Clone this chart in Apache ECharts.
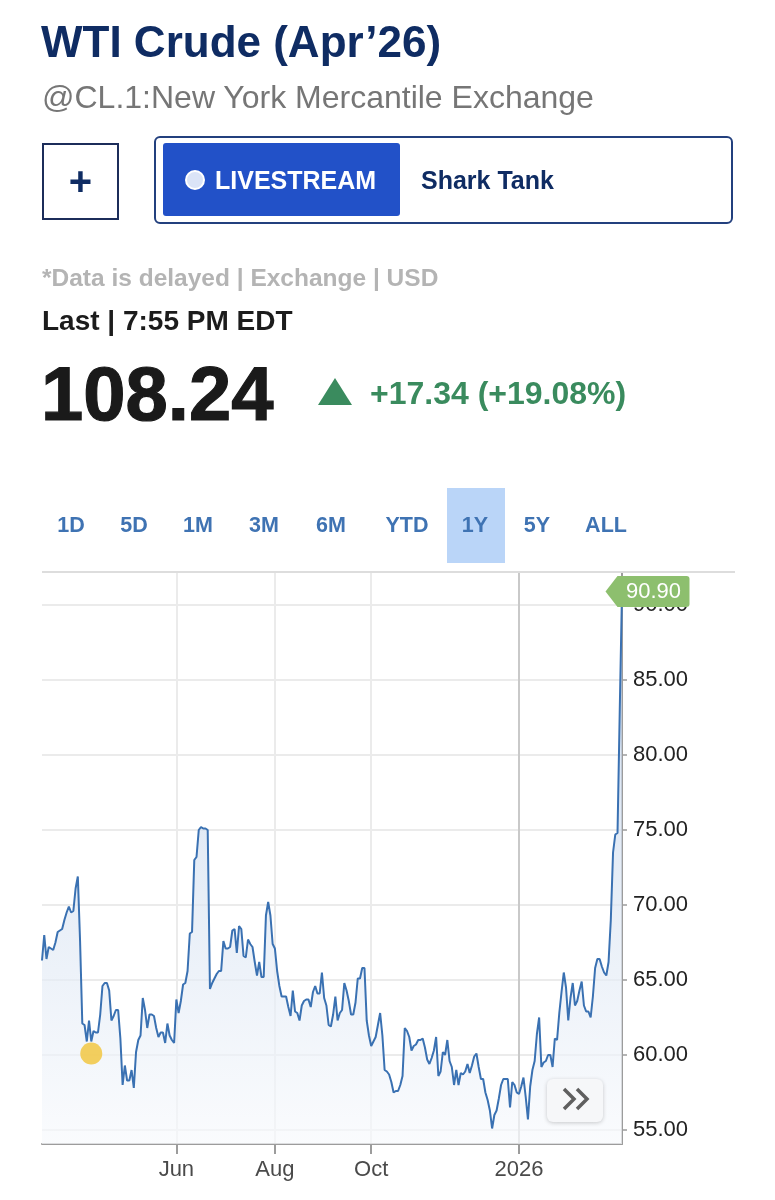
<!DOCTYPE html>
<html lang="en">
<head>
<meta charset="utf-8">
<title>WTI Crude (Apr’26)</title>
<script src="https://cdn.jsdelivr.net/npm/echarts@6/dist/echarts.min.js"></script>
<style>
  html, body { margin:0; padding:0; background:#fff; width:775px; height:1200px; overflow:hidden; }
  body { font-family: 'Liberation Sans', Arial, sans-serif; }
  #chart { position:absolute; left:0; top:0; width:775px; height:1200px; }
  .abs { position:absolute; white-space:nowrap; z-index:5; }
  .tab { position:absolute; top:510px; height:30px; line-height:30px; font-size:21.5px; font-weight:bold; color:#3f73b3; transform:translateX(-50%); z-index:5; }
</style>
</head>
<body>
<div id="chart"></div>

<div class="abs" style="left:41px;top:17px;height:50px;line-height:50px;font-size:44px;font-weight:bold;color:#0f2c63;">WTI Crude (Apr’26)</div>
<div class="abs" style="left:42px;top:77px;height:40px;line-height:40px;font-size:32px;color:#767676;">@CL.1:New York Mercantile Exchange</div>

<div class="abs" style="left:42px;top:143px;width:73px;height:73px;border:2px solid #1c2d5a;display:flex;align-items:center;justify-content:center;font-size:40px;font-weight:bold;color:#0f2c63;">+</div>

<div class="abs" style="left:154px;top:136px;width:575px;height:84px;border:2px solid #23407e;border-radius:6px;"></div>
<div class="abs" style="left:163px;top:143px;width:237px;height:73px;background:#2251c8;border-radius:3px;"></div>
<div class="abs" style="left:185px;top:170px;width:16px;height:16px;border:2.5px solid #ffffff;border-radius:50%;background:#dbe4f7;"></div>
<div class="abs" style="left:215px;top:165px;height:30px;line-height:30px;font-size:25px;font-weight:bold;color:#ffffff;">LIVESTREAM</div>
<div class="abs" style="left:421px;top:165px;height:30px;line-height:30px;font-size:25px;font-weight:bold;color:#0f2c63;">Shark Tank</div>

<div class="abs" style="left:42px;top:263px;height:30px;line-height:30px;font-size:24.5px;font-weight:bold;color:#b4b4b4;">*Data is delayed | Exchange | USD</div>
<div class="abs" style="left:42px;top:304px;height:34px;line-height:34px;font-size:28px;font-weight:bold;color:#1c1c1c;">Last | 7:55 PM EDT</div>
<div class="abs" style="left:41px;top:354px;height:80px;line-height:80px;font-size:76px;font-weight:bold;color:#1a1a1a;-webkit-text-stroke:1.2px #1a1a1a;">108.24</div>
<div class="abs" style="left:318px;top:378px;width:0;height:0;border-left:17px solid transparent;border-right:17px solid transparent;border-bottom:27px solid #3a8b5e;"></div>
<div class="abs" style="left:370px;top:373px;height:40px;line-height:40px;font-size:32px;font-weight:bold;color:#3a8b5e;">+17.34 (+19.08%)</div>

<div class="abs" style="left:447px;top:488px;width:58px;height:75px;background:#bad5f8;z-index:4;"></div>
<div class="tab" style="left:71px;">1D</div>
<div class="tab" style="left:134px;">5D</div>
<div class="tab" style="left:198px;">1M</div>
<div class="tab" style="left:264px;">3M</div>
<div class="tab" style="left:331px;">6M</div>
<div class="tab" style="left:407px;">YTD</div>
<div class="tab" style="left:475px;">1Y</div>
<div class="tab" style="left:537px;">5Y</div>
<div class="tab" style="left:606px;">ALL</div>

<script>
// ---- data ----
// daily settlement values, one per weekday from 2025-03-10 to 2026-03-06
const closePrices = [
  66.3, 68.0, 66.4, 67.2, 67.1, 67.0, 67.5, 68.2, 68.3, 68.4,
  69.0, 69.5, 69.9, 69.5, 69.6, 71.1, 71.9, 67.6, 62.1, 62.0,
  60.9, 62.3, 60.9, 61.6, 61.5, 61.5, 62.7, 64.6, 64.8, 64.8,
  64.3, 62.3, 62.6, 63.0, 63.0, 61.1, 58.0, 59.3, 58.3, 58.3,
  59.0, 57.8, 60.2, 61.0, 61.3, 63.8, 63.0, 61.8, 62.7, 62.7,
  62.6, 61.8, 61.2, 61.5, 61.5, 60.8, 62.1, 61.3, 61.0, 60.8,
  63.7, 62.8, 63.6, 64.7, 64.8, 65.6, 68.1, 68.2, 73.0, 73.2,
  75.0, 75.2, 75.1, 75.1, 75.0, 64.4, 64.8, 65.1, 65.4, 65.6,
  65.6, 67.6, 67.1, 67.1, 67.2, 68.3, 68.4, 66.8, 68.6, 68.4,
  66.6, 66.5, 67.7, 67.4, 67.2, 66.2, 65.3, 66.2, 65.2, 65.2,
  69.3, 70.2, 69.3, 67.4, 67.1, 65.6, 64.6, 63.9, 63.9, 63.9,
  63.2, 62.6, 64.3, 62.9, 62.8, 62.3, 63.3, 63.6, 63.7, 63.7,
  63.2, 64.2, 64.6, 64.1, 64.1, 65.5, 63.8, 63.3, 62.0, 61.9,
  62.7, 63.9, 62.3, 62.8, 63.0, 64.8, 64.3, 63.6, 62.7, 62.7,
  63.5, 65.1, 65.1, 65.8, 65.8, 62.3, 61.3, 60.6, 60.9, 61.2,
  62.0, 62.8, 61.3, 59.0, 58.9, 58.7, 58.2, 57.5, 57.6, 57.6,
  58.0, 58.6, 61.8, 61.6, 61.2, 60.3, 60.6, 60.7, 61.0, 61.0,
  61.1, 60.5, 59.7, 59.4, 59.8, 60.3, 61.2, 58.6, 58.9, 60.2,
  60.0, 61.0, 59.6, 59.2, 58.0, 59.0, 58.0, 58.8, 58.7, 58.9,
  59.4, 58.8, 59.3, 59.9, 60.1, 59.2, 58.4, 58.4, 57.5, 57.0,
  56.3, 55.1, 56.0, 56.3, 57.1, 58.0, 58.4, 58.4, 58.4, 56.5,
  58.2, 58.0, 57.5, 57.4, 57.9, 58.5, 57.2, 55.7, 57.9, 59.0,
  59.6, 61.4, 62.5, 59.2, 59.5, 59.6, 60.0, 60.0, 59.2, 61.1,
  61.0, 62.8, 64.2, 65.5, 64.5, 62.3, 63.8, 64.8, 63.3, 63.6,
  64.3, 64.9, 63.3, 62.9, 62.9, 62.5, 63.9, 65.8, 66.4, 66.4,
  65.9, 65.5, 65.3, 66.2, 69.0, 73.5, 74.7, 74.8, 83.0, 90.90
];
const firstDate = '2025-03-10';
const xTickLabels = { '2025-06-02': 'Jun', '2025-08-01': 'Aug', '2025-10-01': 'Oct', '2026-01-01': '2026' };
const yTickValues = [55, 60, 65, 70, 75, 80, 85, 90];
const yRange = [54.0667, 92.2];
const lastPrice = 90.90;
const eventIndex = [22];
const eventValue = [60.1];

// category list: trading weekdays
const dates = [];
(function () {
  const d = new Date(firstDate + 'T00:00:00Z');
  while (dates.length < closePrices.length) {
    const wd = d.getUTCDay();
    if (wd !== 0 && wd !== 6) dates.push(d.toISOString().slice(0, 10));
    d.setUTCDate(d.getUTCDate() + 1);
  }
})();

const isTick = (idx, val) => Object.prototype.hasOwnProperty.call(xTickLabels, val);
const FONT = "'Liberation Sans', Arial, sans-serif";

const chart = echarts.init(document.getElementById('chart'), null, { renderer: 'canvas' });
chart.setOption({
  animation: false,
  backgroundColor: 'transparent',
  grid: { left: 42, right: 153, top: 572, bottom: 56, containLabel: false },
  xAxis: {
    type: 'category',
    data: dates,
    boundaryGap: false,
    axisLine: { lineStyle: { color: '#9c9c9c', width: 2 } },
    axisTick: { show: true, interval: isTick, length: 10, lineStyle: { color: '#9c9c9c', width: 2 } },
    axisLabel: {
      interval: isTick,
      formatter: v => xTickLabels[v] || '',
      color: '#4a4a4a', fontSize: 22, fontFamily: FONT, margin: 15
    },
    splitLine: {
      show: true, interval: isTick,
      lineStyle: { color: ['#ebebeb', '#ebebeb', '#ebebeb', '#c9c9c9'], width: 2 }
    }
  },
  yAxis: {
    type: 'value',
    position: 'right',
    min: yRange[0], max: yRange[1],
    axisLine: { show: true, lineStyle: { color: '#9c9c9c', width: 2 } },
    axisTick: { show: true, customValues: yTickValues, length: 5, lineStyle: { color: '#9c9c9c', width: 1.5 } },
    axisLabel: {
      customValues: yTickValues,
      formatter: v => Number(v).toFixed(2),
      color: '#222222', fontSize: 22, fontFamily: FONT, margin: 11
    },
    splitLine: { show: true, lineStyle: { color: '#ebebeb', width: 2 } }
  },
  series: [
    {
      type: 'line',
      data: closePrices,
      showSymbol: false,
      symbol: 'none',
      lineStyle: { color: '#3a71b2', width: 2 },
      areaStyle: {
        color: new echarts.graphic.LinearGradient(0, 0, 0, 1, [
          { offset: 0, color: '#bccfe8' },
          { offset: 1, color: '#f7f9fc' }
        ])
      },
      markPoint: {
        symbol: 'path://M0,15.5L12,0H81Q84,0,84,3V28Q84,31,81,31H12Z',
        symbolSize: [84, 31],
        symbolOffset: [25.5, 0],
        itemStyle: { color: '#8dbf6e' },
        label: {
          show: true, position: 'inside', offset: [6, 0],
          formatter: () => lastPrice.toFixed(2),
          color: '#ffffff', fontSize: 22, fontFamily: FONT
        },
        data: [{ coord: [dates[dates.length - 1], lastPrice] }]
      },
      z: 3
    },
    {
      type: 'scatter',
      data: eventIndex.map((i, k) => [dates[i], eventValue[k]]),
      symbolSize: 22,
      itemStyle: { color: '#f3c437' },
      z: 4
    }
  ],
  graphic: [
    { type: 'line', z: 100, shape: { x1: 42, y1: 572, x2: 735, y2: 572 }, style: { stroke: '#dddddd', lineWidth: 2 } },
    { type: 'rect', z: 100, shape: { x: 547, y: 1079, width: 56, height: 43, r: 6 },
      style: { fill: '#f6f7f9', shadowBlur: 4, shadowColor: 'rgba(0,0,0,0.2)', shadowOffsetY: 1 } },
    { type: 'polyline', z: 101, shape: { points: [[564, 1089], [574, 1099], [564, 1109]] },
      style: { stroke: '#5f5f5f', lineWidth: 3.5, fill: null } },
    { type: 'polyline', z: 101, shape: { points: [[577, 1089], [587, 1099], [577, 1109]] },
      style: { stroke: '#5f5f5f', lineWidth: 3.5, fill: null } }
  ]
});
</script>
</body>
</html>
